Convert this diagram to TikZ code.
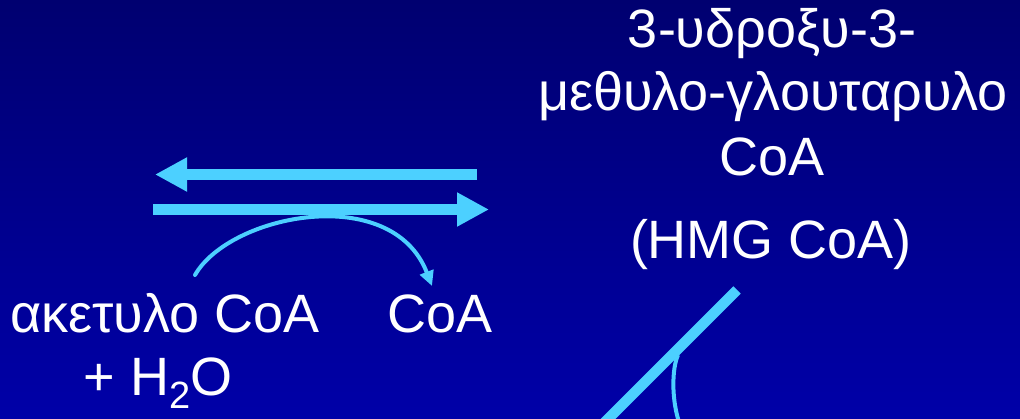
\documentclass[tikz,border=0pt]{standalone}
\usepackage{fontspec}
\setmainfont{Liberation Sans}
\usetikzlibrary{arrows.meta}
\definecolor{bgtop}{RGB}{0,0,112}
\definecolor{bgbot}{RGB}{0,0,168}
\definecolor{arrowc}{RGB}{76,208,255}
\begin{document}
\begin{tikzpicture}[x=1pt,y=-1pt,
  lbl/.style={text=white, font=\fontsize{54}{64}\selectfont, inner sep=0pt, anchor=base},
  bigarrow/.style={draw=arrowc, line width=10.5pt, -{Triangle[length=32pt,width=32pt]}},
  thinarrow/.style={draw=arrowc, line width=4pt, line cap=round, -{Triangle[length=15pt,width=14pt]}},
  thinline/.style={draw=arrowc, line width=4pt},
  barline/.style={draw=arrowc, line width=10.5pt}]
\useasboundingbox (0,0) rectangle (1020,418);
\clip (0,0) rectangle (1020,418);
\shade[top color=bgtop, bottom color=bgbot] (0,0) rectangle (1020,418);

% text
\node[lbl] (acetyl) at (165,332) {ακετυλο CoA};
\node[lbl] (water) at (158,395) {+ H\raisebox{-13pt}{\fontsize{38}{38}\selectfont 2}O};
\node[lbl] (coa) at (440,332) {CoA};
\node[lbl] (hmga) at (772,47) {3-υδροξυ-3-};
\node[lbl] (hmgb) at (773,110) {μεθυλο-γλουταρυλο};
\node[lbl] (hmgc) at (772,175) {CoA};
\node[lbl] (hmgd) at (771,258) {(HMG CoA)};

% equilibrium arrows
\coordinate (backs) at (477,174.5);
\coordinate (backe) at (155,174.5);
\coordinate (fors) at (153,209.5);
\coordinate (fore) at (489,209.5);
\draw[bigarrow] (backs) -- (backe);
\draw[bigarrow] (fors) -- (fore);

% curved side arrow
\coordinate (cs) at (195,275);
\coordinate (ce) at (432,286);
\draw[thinarrow] (cs) .. controls (230,214) and (392,182) .. (ce);

% lower right bar and thin curve
\coordinate (bars) at (737,290);
\coordinate (bare) at (597,430);
\draw[barline] (bars) -- (bare);
\coordinate (ts) at (678,355);
\coordinate (te) at (680,425);
\draw[thinline] (ts) .. controls (672,368) and (671,400) .. (te);
\end{tikzpicture}
\end{document}
